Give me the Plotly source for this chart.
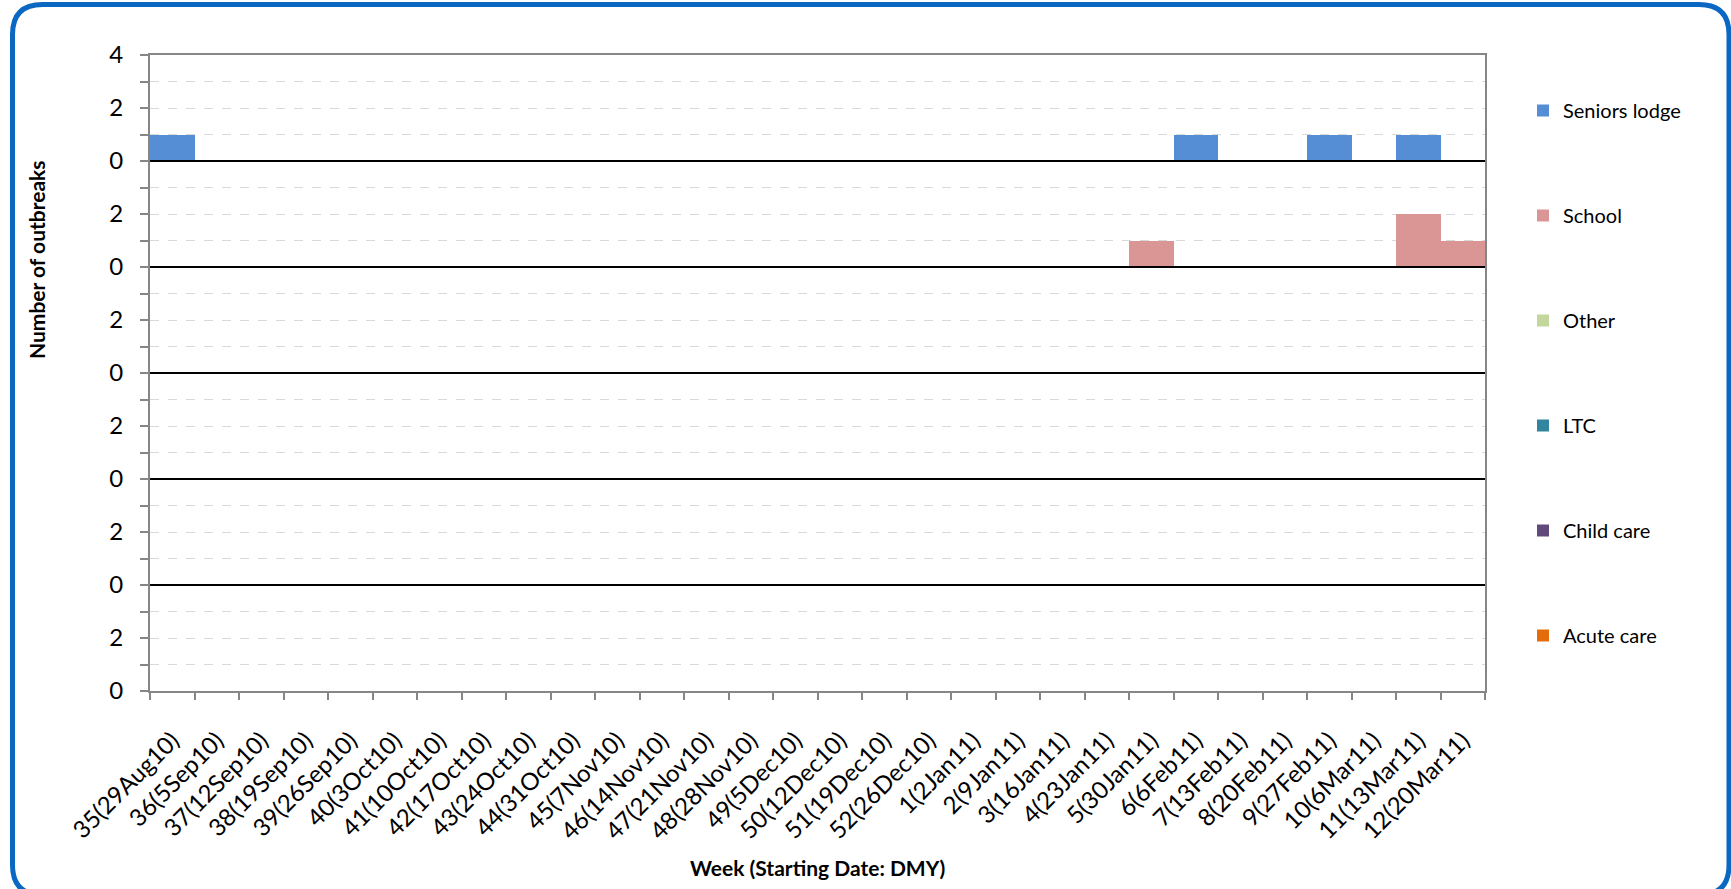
import plotly.graph_objects as go

weeks = ["35(29Aug10)", "36(5Sep10)", "37(12Sep10)", "38(19Sep10)", "39(26Sep10)",
         "40(3Oct10)", "41(10Oct10)", "42(17Oct10)", "43(24Oct10)", "44(31Oct10)",
         "45(7Nov10)", "46(14Nov10)", "47(21Nov10)", "48(28Nov10)", "49(5Dec10)",
         "50(12Dec10)", "51(19Dec10)", "52(26Dec10)", "1(2Jan11)", "2(9Jan11)",
         "3(16Jan11)", "4(23Jan11)", "5(30Jan11)", "6(6Feb11)", "7(13Feb11)",
         "8(20Feb11)", "9(27Feb11)", "10(6Mar11)", "11(13Mar11)", "12(20Mar11)"]

seniors_lodge = [1, 0, 0, 0, 0, 0, 0, 0, 0, 0, 0, 0, 0, 0, 0,
                 0, 0, 0, 0, 0, 0, 0, 0, 1, 0, 0, 1, 0, 1, 0]
school = [0, 0, 0, 0, 0, 0, 0, 0, 0, 0, 0, 0, 0, 0, 0,
          0, 0, 0, 0, 0, 0, 0, 1, 0, 0, 0, 0, 0, 2, 1]
other = [0] * 30
ltc = [0] * 30
child_care = [0] * 30
acute_care = [0] * 30

series_names = ["Seniors lodge", "School", "Other", "LTC", "Child care", "Acute care"]
series_values = [seniors_lodge, school, other, ltc, child_care, acute_care]
series_colors = ["#558ED5", "#D99694", "#C3D69B", "#31859C", "#604A7B", "#E46C0A"]
panel_base = [20, 16, 12, 8, 4, 0]   # each panel spans 4 units

y_tickvals = [0, 2, 4, 6, 8, 10, 12, 14, 16, 18, 20, 22, 24]
y_ticktext = ["0", "2", "0", "2", "0", "2", "0", "2", "0", "2", "0", "2", "4"]

FONT = "Lato"
W, H = 1731, 889
L, R, T, B = 150, 1485, 55, 691   # plot area in pixels


def px(x):
    return (x - L) / (R - L)


def py(y):
    return (B - y) / (B - T)


fig = go.Figure()

for name, vals, color, base in zip(series_names, series_values, series_colors, panel_base):
    fig.add_trace(go.Bar(
        x=weeks,
        y=vals,
        base=[base] * len(vals),
        name=name,
        legendgroup=name,
        marker=dict(color=color, line=dict(width=0)),
        width=1,
    ))

shapes = []
# panel baselines
for b in panel_base:
    if b == 0:
        continue
    shapes.append(dict(type="line", xref="paper", yref="y", x0=0, x1=1, y0=b, y1=b,
                       line=dict(color="black", width=2), layer="above"))

# rounded outer frame
x0, x1, y0, y1, r = 12.5, 1729, 4.5, 895, 30
path = (f"M {px(x0 + r)},{py(y0)} L {px(x1 - r)},{py(y0)} "
        f"Q {px(x1)},{py(y0)} {px(x1)},{py(y0 + r)} "
        f"L {px(x1)},{py(y1 - r)} Q {px(x1)},{py(y1)} {px(x1 - r)},{py(y1)} "
        f"L {px(x0 + r)},{py(y1)} Q {px(x0)},{py(y1)} {px(x0)},{py(y1 - r)} "
        f"L {px(x0)},{py(y0 + r)} Q {px(x0)},{py(y0)} {px(x0 + r)},{py(y0)} Z")
shapes.append(dict(type="path", xref="paper", yref="paper", path=path,
                   line=dict(color="#0A67C2", width=5)))

fig.update_layout(
    width=W, height=H,
    margin=dict(l=L, r=W - R, t=T, b=H - B),
    paper_bgcolor="white",
    plot_bgcolor="white",
    barmode="overlay",
    bargap=0,
    font=dict(family=FONT, color="black"),
    shapes=shapes,
    showlegend=True,
    legend=dict(
        x=px(1523), y=py(91), xanchor="left", yanchor="top",
        traceorder="grouped", tracegroupgap=76,
        font=dict(family=FONT, size=20, color="black"),
        bgcolor="rgba(0,0,0,0)",
    ),
    annotations=[
        dict(text="<b>Week (Starting Date: DMY)</b>", xref="paper", yref="paper",
             x=px(817), y=py(868), xanchor="center", yanchor="middle", showarrow=False,
             font=dict(family=FONT, size=21, color="black")),
        dict(text="<b>Number of outbreaks</b>", xref="paper", yref="paper",
             x=px(36), y=py(260), xanchor="center", yanchor="middle", showarrow=False,
             textangle=-90, font=dict(family=FONT, size=21, color="black")),
    ],
)

fig.update_xaxes(
    type="category",
    range=[-0.5, len(weeks) - 0.5],
    tickangle=-45,
    tickson="boundaries",
    ticks="outside", ticklen=7, tickcolor="#868686", tickwidth=2,
    showline=True, linecolor="#868686", linewidth=2, mirror=True,
    showgrid=False,
    ticklabelstandoff=24,
    tickfont=dict(family=FONT, size=24, color="black"),
)

fig.update_yaxes(
    range=[0, 24],
    tickvals=y_tickvals, ticktext=y_ticktext,
    ticks="outside", ticklen=8, tickcolor="#868686", tickwidth=2,
    showline=True, linecolor="#868686", linewidth=2, mirror=True,
    showgrid=True, gridcolor="#D9D9D9", griddash="dash", gridwidth=1,
    minor=dict(dtick=1, ticks="outside", ticklen=8, tickcolor="#868686", tickwidth=2,
               showgrid=True, gridcolor="#D9D9D9", griddash="dash", gridwidth=1),
    zeroline=False,
    ticklabelstandoff=12,
    tickfont=dict(family=FONT, size=24, color="black"),
)

# drop the default page margin so the figure sits at the window origin
fig.write_html("out.html", config={"displayModeBar": False},
               post_script="document.body.style.margin = '0px';")
